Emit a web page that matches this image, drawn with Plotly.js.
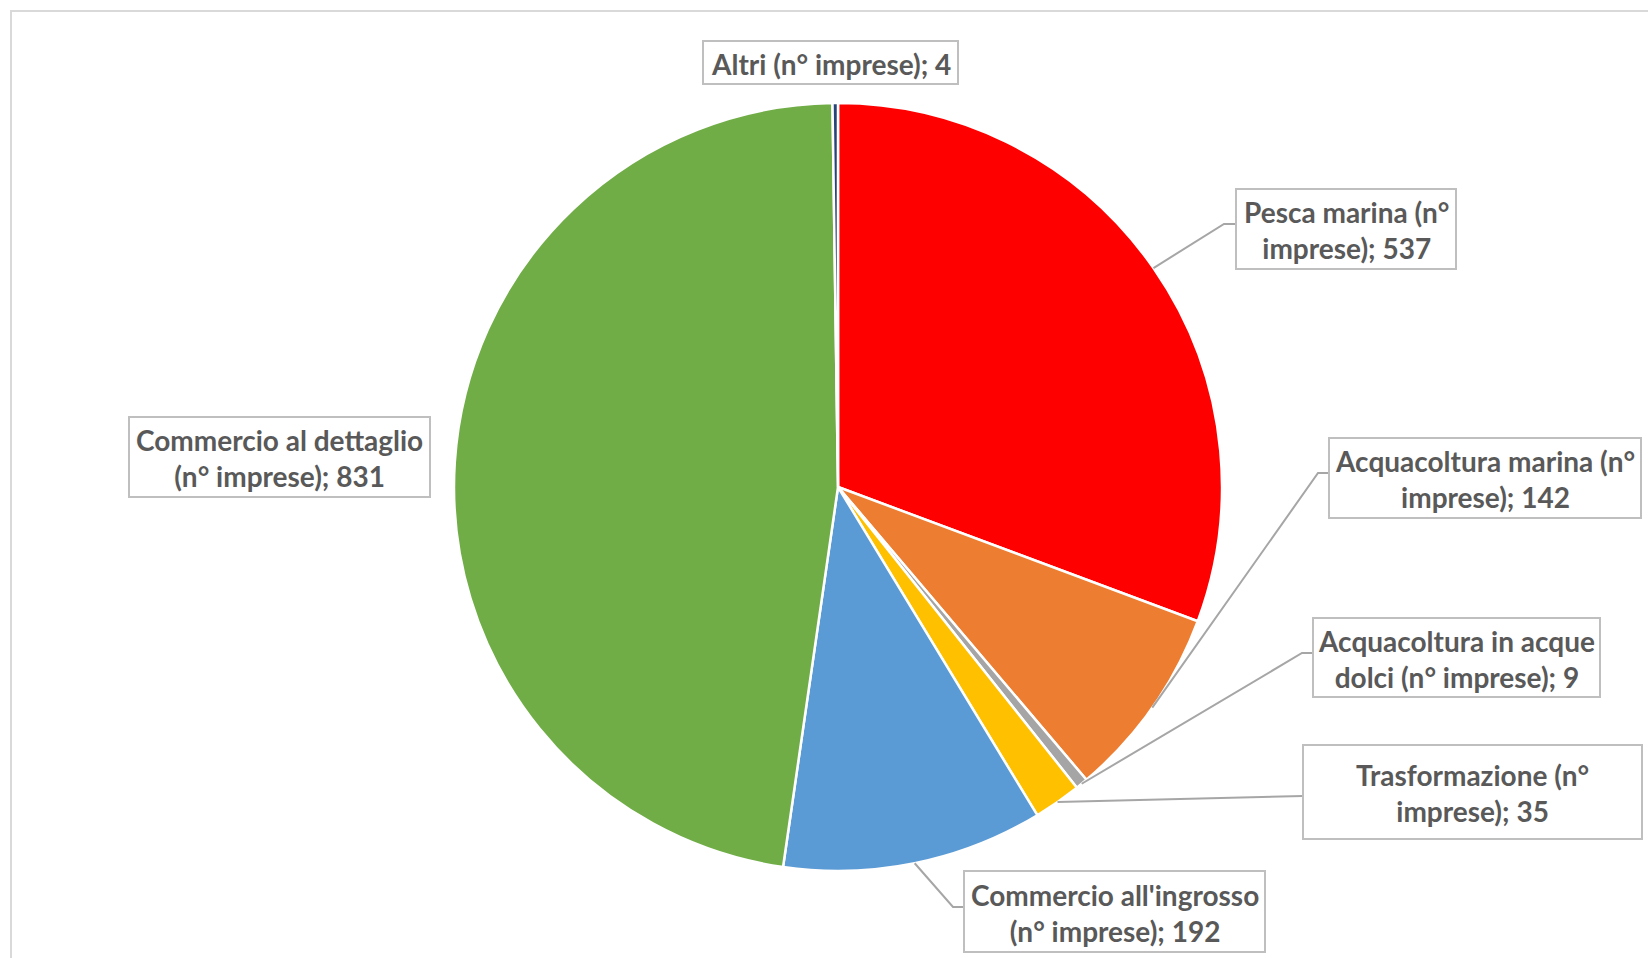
<!DOCTYPE html>
<html>
<head>
<meta charset="utf-8">
<script src="https://cdn.plot.ly/plotly-3.0.1.min.js"></script>
<style>
  html, body { margin: 0; padding: 0; background: #ffffff; }
  #chart { width: 1648px; height: 958px; }
</style>
</head>
<body>
<div id="chart"></div>
<script>
// ---- data ----
const categories = [
  "Pesca marina",
  "Acquacoltura marina",
  "Acquacoltura in acque dolci",
  "Trasformazione",
  "Commercio all'ingrosso",
  "Commercio al dettaglio",
  "Altri"
];
const values = [537, 142, 9, 35, 192, 831, 4];
const labelTexts = [
  "Pesca marina (n°<br>imprese); 537",
  "Acquacoltura marina (n°<br>imprese); 142",
  "Acquacoltura in acque<br>dolci (n° imprese); 9",
  "Trasformazione (n°<br>imprese); 35",
  "Commercio all'ingrosso<br>(n° imprese); 192",
  "Commercio al dettaglio<br>(n° imprese); 831",
  "Altri (n° imprese); 4"
];
const colors = ["#FF0000", "#ED7D31", "#A5A5A5", "#FFC000", "#5B9BD5", "#70AD47", "#264478"];

// ---- layout geometry (pixels) ----
const W = 1648, H = 958;
const CX = 838, CY = 487, R = 384;
const px = x => x / W;
const py = y => 1 - y / H;

// label boxes [x0, y0, x1, y1] in pixels and leader elbows
const boxes = [
  [1236, 189, 1456, 269],
  [1329, 438, 1641, 518],
  [1313, 618, 1600, 697],
  [1303, 745, 1642, 839],
  [964, 871, 1265, 952],
  [129, 417, 430, 497],
  [703, 41, 958, 84]
];
// leader: [elbowX, elbowY, attachX, attachY] or null
const leaders = [
  [1224, 224, 1236, 224],
  [1318, 473, 1329, 473],
  [1302, 653, 1313, 653],
  [1303, 796, 1303, 796],
  [953, 907, 964, 907],
  null,
  null
];

const total = values.reduce((a, b) => a + b, 0);
let cum = 0;
const midAngles = values.map(v => { const m = (cum + v / 2) / total * 2 * Math.PI; cum += v; return m; });

const shapes = [];
// chart frame
shapes.push({type: "rect", xref: "paper", yref: "paper",
  x0: px(11), x1: px(1670), y0: py(11), y1: py(980),
  line: {color: "#D9D9D9", width: 2}, fillcolor: "rgba(0,0,0,0)", layer: "below"});

const annotations = [];
categories.forEach((c, i) => {
  const b = boxes[i];
  if (leaders[i]) {
    const a = midAngles[i];
    const sx = CX + R * Math.sin(a), sy = CY - R * Math.cos(a);
    const l = leaders[i];
    shapes.push({type: "path", xref: "paper", yref: "paper",
      path: `M ${px(sx)},${py(sy)} L ${px(l[0])},${py(l[1])} L ${px(l[2])},${py(l[3])}`,
      line: {color: "#A6A6A6", width: 2}});
  }
  shapes.push({type: "rect", xref: "paper", yref: "paper",
    x0: px(b[0]), x1: px(b[2]), y0: py(b[1]), y1: py(b[3]),
    line: {color: "#BFBFBF", width: 2}, fillcolor: "#FFFFFF"});
  annotations.push({xref: "paper", yref: "paper",
    x: px((b[0] + b[2]) / 2), y: py((b[1] + b[3]) / 2 + 1),
    xanchor: "center", yanchor: "middle", showarrow: false, align: "center",
    text: "<b>" + labelTexts[i] + "</b>",
    font: {family: "Lato, 'Open Sans', sans-serif", size: 28, color: "#595959"}});
});

const trace = {
  type: "pie",
  labels: categories,
  values: values,
  sort: false,
  direction: "clockwise",
  rotation: 0,
  textinfo: "none",
  hoverinfo: "label+value",
  marker: {colors: colors, line: {color: "#FFFFFF", width: 2.5}},
  domain: {x: [px(CX - R), px(CX + R)], y: [py(CY + R), py(CY - R)]},
  showlegend: false
};

const layout = {
  width: W, height: H, autosize: false,
  margin: {l: 0, r: 0, t: 0, b: 0, pad: 0},
  paper_bgcolor: "#FFFFFF", plot_bgcolor: "#FFFFFF",
  showlegend: false,
  shapes: shapes,
  annotations: annotations
};

Plotly.newPlot("chart", [trace], layout, {displayModeBar: false, staticPlot: true});
</script>
</body>
</html>
